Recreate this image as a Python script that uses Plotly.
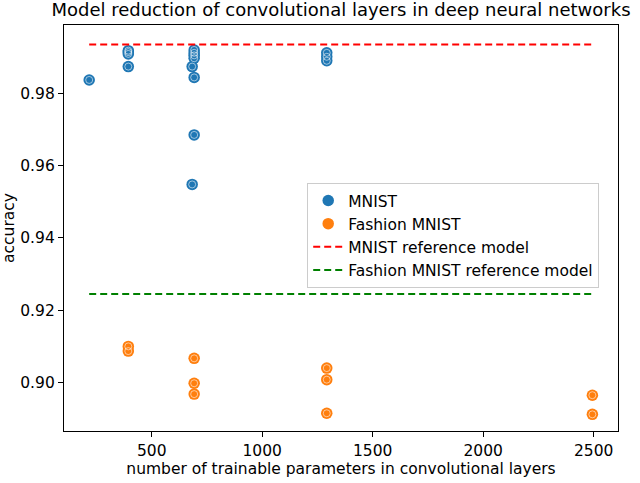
import plotly.graph_objects as go

# MNIST results
mnist_x = [217, 394, 394, 394, 394, 692, 692, 692, 692, 683, 692, 692, 683, 1292, 1292, 1292]
mnist_y = [0.9837, 0.9918, 0.9914, 0.9909, 0.9874, 0.9920, 0.9912, 0.9905, 0.9897, 0.9874, 0.9844, 0.9685, 0.9548, 0.9912, 0.9901, 0.9890]

# Fashion MNIST results
fashion_x = [394, 394, 692, 692, 692, 1292, 1292, 1292, 2494, 2494]
fashion_y = [0.9100, 0.9087, 0.9067, 0.8998, 0.8968, 0.9040, 0.9008, 0.8915, 0.8965, 0.8912]

# Reference models
ref_x = [217, 2494]
mnist_ref = 0.9935
fashion_ref = 0.9245

blue = "#1f77b4"
orange = "#ff7f0e"
font = "DejaVu Sans"
fs = 15.5

fig = go.Figure()
fig.add_trace(go.Scatter(x=mnist_x, y=mnist_y, mode="markers", name="MNIST",
                         marker=dict(color=blue, size=11.5, line=dict(width=0))))
fig.add_trace(go.Scatter(x=mnist_x, y=mnist_y, mode="markers", showlegend=False, hoverinfo="skip",
                         marker=dict(symbol="circle-open", color="rgba(255,255,255,0.7)", size=7,
                                     line=dict(width=0.8))))
fig.add_trace(go.Scatter(x=fashion_x, y=fashion_y, mode="markers", name="Fashion MNIST",
                         marker=dict(color=orange, size=11.5, line=dict(width=0))))
fig.add_trace(go.Scatter(x=fashion_x, y=fashion_y, mode="markers", showlegend=False, hoverinfo="skip",
                         marker=dict(symbol="circle-open", color="rgba(255,255,255,0.7)", size=7,
                                     line=dict(width=0.8))))
fig.add_trace(go.Scatter(x=ref_x, y=[mnist_ref] * len(ref_x), mode="lines", name="MNIST reference model",
                         line=dict(color="red", width=2, dash="7px,4px")))
fig.add_trace(go.Scatter(x=ref_x, y=[fashion_ref] * len(ref_x), mode="lines", name="Fashion MNIST reference model",
                         line=dict(color="green", width=2, dash="7px,4px")))

axis_common = dict(showline=True, linecolor="black", linewidth=1.3, mirror=True, showgrid=False,
                   zeroline=False, ticks="outside", ticklen=5, tickwidth=1.2, tickcolor="black",
                   automargin=False,
                   tickfont=dict(family=font, size=fs, color="black"))

fig.update_layout(
    width=640, height=483,
    margin=dict(l=64, r=22, t=25, b=52),
    paper_bgcolor="white", plot_bgcolor="white",
    font=dict(family=font, size=fs, color="black"),
    title=dict(text="Model reduction of convolutional layers in deep neural networks",
               x=0.5, xanchor="center", xref="paper", y=0.992, yanchor="top",
               font=dict(family=font, size=18, color="black")),
    xaxis=dict(range=[103, 2610], tickvals=[500, 1000, 1500, 2000, 2500],
               title=dict(text="number of trainable parameters in convolutional layers", standoff=2,
                          font=dict(family=font, size=fs)),
               **axis_common),
    yaxis=dict(range=[0.8866, 0.9989], tickvals=[0.90, 0.92, 0.94, 0.96, 0.98], tickformat=".2f",
               title=dict(text="accuracy", standoff=4, font=dict(family=font, size=fs)),
               **axis_common),
    legend=dict(x=0.439, y=0.611, xanchor="left", yanchor="top",
                bgcolor="rgba(255,255,255,0.8)", bordercolor="#cccccc", borderwidth=1,
                font=dict(family=font, size=fs), tracegroupgap=0, itemwidth=30),
    showlegend=True,
)

fig.write_html("out.html", config={"displayModeBar": False},
               post_script="document.body.style.margin='0';")
